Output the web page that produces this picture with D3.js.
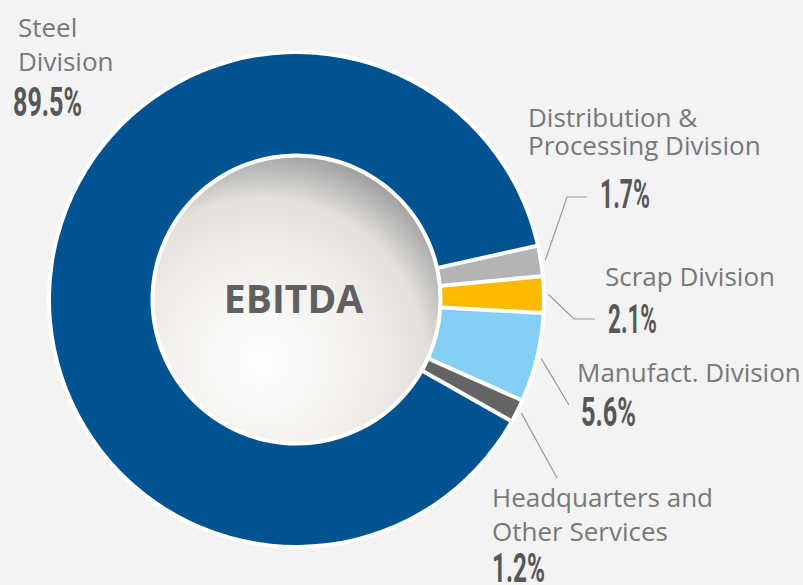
<!DOCTYPE html>
<html>
<head>
<meta charset="utf-8">
<script src="https://cdn.jsdelivr.net/npm/d3@7"></script>
<style>
  html, body { margin: 0; padding: 0; background: #f3f3f3; }
  svg { display: block; }
  .lbl { font-family: "Open Sans", sans-serif; font-size: 26px; fill: #787878; }
  .pct { font-family: Roboto, sans-serif; font-weight: 700; font-size: 40px; fill: #575757; }
  .leader { fill: none; stroke: #999; stroke-width: 1.2; }
</style>
</head>
<body>
<svg id="chart" width="803" height="585"></svg>
<script>
// EBITDA share by division (%)
var categories = ['Steel Division', 'Distribution & Processing Division', 'Scrap Division', 'Manufact. Division', 'Headquarters and Other Services'];
var shares = [89.5, 1.7, 2.1, 5.6, 1.2];
var labelLines = [['Steel', 'Division'], ['Distribution &', 'Processing Division'], ['Scrap Division'], ['Manufact. Division'], ['Headquarters and', 'Other Services']];
var pctLabels = ['89.5%', '1.7%', '2.1%', '5.6%', '1.2%'];
var colors = ['#005391', '#b4b4b4', '#fbb900', '#84cff4', '#646464'];

// label placement (text baselines, percent width, leader elbow points)
var layout = [
  { x: 18, lines: [37, 71], px: 13, py: 116, pw: 69, leader: null },
  { x: 528, lines: [127, 155], px: 600, py: 208, pw: 50, leader: [[567, 197], [587, 197]] },
  { x: 605, lines: [286], px: 608, py: 333, pw: 49, leader: [[574, 319], [595, 319]] },
  { x: 577, lines: [382], px: 581, py: 426, pw: 55, leader: [[569, 405]] },
  { x: 492, lines: [507, 541], px: 492, py: 582, pw: 53, leader: [[557, 478]] }
];

var cx = 296.5, cy = 299.5;
var R_OUT = 245.5, R_IN = 146, R_RING = 249.5, R_CORE = 142;

var svg = d3.select('#chart');
svg.append('rect').attr('width', 803).attr('height', 585).attr('fill', '#f3f3f3');

var defs = svg.append('defs');
var grad = defs.append('radialGradient').attr('id', 'core')
  .attr('cx', 0.38).attr('cy', 0.72).attr('r', 0.74);
grad.selectAll('stop')
  .data([[0, '#ffffff'], [0.5, '#f2efeb'], [0.78, '#e3e0dc'], [1, '#a3a3a3']])
  .join('stop').attr('offset', function(d) { return d[0]; }).attr('stop-color', function(d) { return d[1]; });

var g = svg.append('g').attr('transform', 'translate(' + cx + ',' + cy + ')');

// white base ring
g.append('circle').attr('r', R_RING).attr('fill', '#fff');

var start = 119.5 * Math.PI / 180;
var pie = d3.pie().sort(null).value(function(d) { return d; })
  .startAngle(start).endAngle(start + 2 * Math.PI).padAngle(0.02);
var arc = d3.arc().innerRadius(R_IN).outerRadius(R_OUT).padRadius(200);
var arcs = pie(shares);

g.selectAll('path.slice').data(arcs).join('path')
  .attr('class', 'slice')
  .attr('d', arc)
  .attr('fill', function(d, i) { return colors[i]; });

g.append('circle').attr('r', R_CORE).attr('fill', 'url(#core)');

g.append('text').attr('x', -3).attr('y', 13)
  .attr('text-anchor', 'middle')
  .style('font-family', '"Open Sans", sans-serif').style('font-weight', 700)
  .style('font-size', '39px').style('fill', '#606060')
  .text('EBITDA');

// leader lines
var edge = d3.arc().innerRadius(252).outerRadius(252);
arcs.forEach(function(d, i) {
  var L = layout[i];
  if (!L.leader) return;
  var p = edge.centroid(d);
  var pts = [[p[0] + cx, p[1] + cy]].concat(L.leader);
  svg.append('path').attr('class', 'leader').attr('d', d3.line()(pts));
});

// labels
layout.forEach(function(L, i) {
  labelLines[i].forEach(function(t, j) {
    svg.append('text').attr('class', 'lbl').attr('x', L.x).attr('y', L.lines[j]).text(t);
  });
  svg.append('text').attr('class', 'pct')
    .attr('x', L.px).attr('y', L.py)
    .attr('textLength', L.pw).attr('lengthAdjust', 'spacingAndGlyphs')
    .text(pctLabels[i]);
});
</script>
</body>
</html>
